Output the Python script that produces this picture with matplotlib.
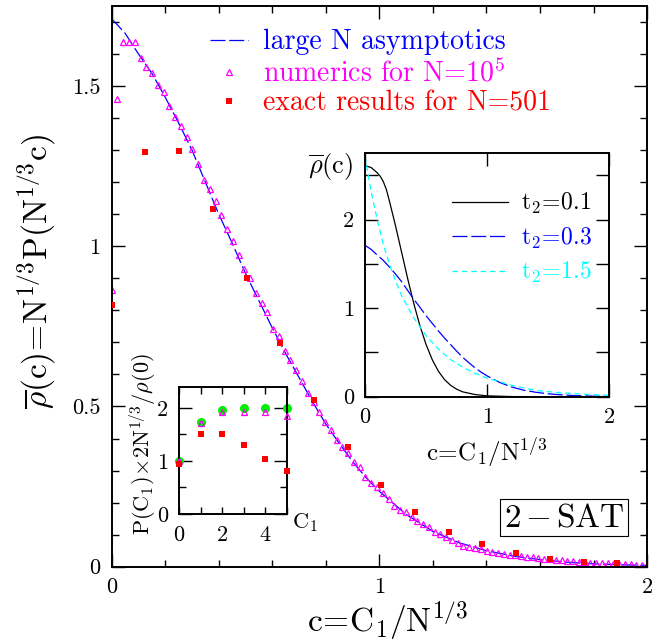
import matplotlib
matplotlib.use('Agg')
import matplotlib.pyplot as plt
import numpy as np

plt.rcParams['font.family'] = 'cmr10'
plt.rcParams['mathtext.fontset'] = 'cm'
plt.rcParams['axes.unicode_minus'] = False
plt.rcParams['axes.formatter.use_mathtext'] = True

# large N asymptotics (main curve, also t2=0.3 in the inset)
asym_c = [0, 0.05, 0.1, 0.15, 0.2, 0.25, 0.3, 0.35, 0.4, 0.45, 0.5, 0.55, 0.6,
          0.65, 0.7, 0.75, 0.8, 0.85, 0.9, 0.95, 1.0, 1.1, 1.2, 1.3, 1.4, 1.5,
          1.6, 1.7, 1.8, 1.9, 2.0]
asym_rho = [1.71, 1.665, 1.60, 1.54, 1.465, 1.385, 1.30, 1.20, 1.10, 1.01, 0.915,
            0.83, 0.745, 0.665, 0.59, 0.515, 0.445, 0.385, 0.328, 0.278, 0.235,
            0.163, 0.11, 0.074, 0.05, 0.033, 0.022, 0.014, 0.009, 0.006, 0.004]

# numerics for N=1e5, C1 = 0..92, c = C1 / N^(1/3)
num_N = 1e5
num_rho = [0.864, 1.46, 1.637, 1.637, 1.637, 1.589, 1.56, 1.542, 1.502, 1.481,
           1.437, 1.404, 1.374, 1.342, 1.305, 1.258, 1.207, 1.179, 1.141, 1.099,
           1.055, 1.018, 0.974, 0.929, 0.901, 0.854, 0.823, 0.794, 0.742, 0.719,
           0.674, 0.646, 0.613, 0.578, 0.542, 0.515, 0.482, 0.453, 0.427, 0.396,
           0.375, 0.356, 0.328, 0.311, 0.281, 0.262, 0.25, 0.229, 0.21, 0.19,
           0.177, 0.17, 0.154, 0.141, 0.132, 0.125, 0.109, 0.101, 0.094, 0.083,
           0.075, 0.065, 0.062, 0.058, 0.054, 0.050, 0.047, 0.044, 0.041, 0.038,
           0.036, 0.033, 0.031, 0.029, 0.027, 0.025, 0.023, 0.021, 0.020, 0.018,
           0.017, 0.016, 0.014, 0.013, 0.012, 0.011, 0.010, 0.009, 0.008, 0.008,
           0.007, 0.006, 0.006]

# exact results for N=501, C1 = 0..15
exact_N = 501
exact_rho = [0.818, 1.294, 1.297, 1.116, 0.901, 0.698, 0.519, 0.372, 0.256,
             0.172, 0.109, 0.070, 0.044, 0.025, 0.016, 0.010]

# inset: rho_bar(c) for several t2
t01_c = [0, 0.05, 0.1, 0.125, 0.15, 0.175, 0.2, 0.25, 0.3, 0.35, 0.4, 0.45,
         0.5, 0.55, 0.6, 0.65, 0.7, 0.75, 0.8, 0.9, 1.0, 1.2, 1.5, 2.0]
t01_rho = [2.61, 2.59, 2.53, 2.49, 2.43, 2.34, 2.21, 1.93, 1.63, 1.33, 1.05,
           0.80, 0.59, 0.42, 0.29, 0.195, 0.13, 0.085, 0.055, 0.025, 0.01,
           0.002, 0.0, 0.0]
t15_c = [0, 0.02, 0.05, 0.1, 0.15, 0.2, 0.25, 0.3, 0.4, 0.5, 0.6, 0.7, 0.8,
         0.9, 1.0, 1.2, 1.4, 1.6, 1.8, 2.0]
t15_rho = [2.72, 2.55, 2.32, 2.00, 1.72, 1.50, 1.31, 1.14, 0.89, 0.69, 0.54,
           0.42, 0.335, 0.265, 0.21, 0.13, 0.07, 0.045, 0.028, 0.015]

# small inset: P(C1) x 2N^(1/3) / rho(0)
small_C1 = [0, 1, 2, 3, 4, 5]
small_green = [1.0, 1.73, 1.96, 2.0, 2.0, 2.0]
small_num = [1.0, 1.71, 1.92, 1.92, 1.92, 1.85]
small_exact = [0.95, 1.50, 1.50, 1.31, 1.04, 0.81]

BLUE = '#0000ff'
MAG = '#ff00ff'
RED = '#ff0000'
CYAN = '#00ffff'
GREEN = '#00ee00'


def style_ticks(ax, major, minor, size):
    ax.tick_params(which='both', direction='in', top=True, right=True,
                   labelsize=size, pad=8)
    ax.tick_params(which='major', length=major, width=1)
    ax.tick_params(which='minor', length=minor, width=1)
    for s in ax.spines.values():
        s.set_linewidth(1.4)


fig = plt.figure(figsize=(6.71, 6.43), dpi=100)

# ---- main plot
ax = fig.add_axes([0.1665, 0.1187, 0.7978, 0.8720])
c_num = np.arange(len(num_rho)) / num_N ** (1 / 3)
c_exact = np.arange(len(exact_rho)) / exact_N ** (1 / 3)
ax.plot(asym_c, asym_rho, color=BLUE, lw=0.9, dashes=(12, 3),
        label='large N asymptotics')
ax.plot(c_num, num_rho, ls='none', marker='^', ms=5, mfc='none', mec=MAG,
        mew=0.9, color=MAG, label=r'numerics for N=$10^5$')
ax.plot(c_exact, exact_rho, ls='none', marker='s', ms=5, color=RED, mew=0,
        label='exact results for N=501', zorder=4)
ax.set_xlim(0, 2)
ax.set_ylim(0, 1.75)
ax.set_xticks([0, 1, 2])
ax.set_xticklabels(['0', '1', '2'])
ax.set_xticks(np.arange(0, 2.01, 0.2), minor=True)
ax.set_yticks([0, 0.5, 1, 1.5])
ax.set_yticklabels(['0', '0.5', '1', '1.5'])
ax.set_yticks(np.arange(0, 1.75, 0.1), minor=True)
style_ticks(ax, 9.5, 4.8, 16)
ax.set_xlabel(r'$\mathrm{c\!=\!C_1/N^{1/3}}$', fontsize=24)
ax.xaxis.set_label_coords(0.515, -0.058)
ax.set_ylabel(r'$\overline{\rho}(\mathrm{c})\!=\!\mathrm{N^{1/3}P(N^{1/3}c)}$',
              fontsize=24)
ax.yaxis.set_label_coords(-0.1, 0.526)
leg = ax.legend(loc='upper left', bbox_to_anchor=(0.313, 0.955),
                bbox_transform=fig.transFigure, frameon=False, fontsize=20,
                borderpad=0, borderaxespad=0, handlelength=1.35,
                handletextpad=0.55, labelspacing=0.12, numpoints=1,
                labelcolor='linecolor')
ax.text(0.845, 0.087, r'$2\,{-}\,\mathrm{SAT}$', transform=ax.transAxes,
        fontsize=24, ha='center', va='center',
        bbox=dict(boxstyle='square,pad=0.12', fc='white', ec='black', lw=0.8))

# ---- inset with several t2
ai = fig.add_axes([0.544, 0.383, 0.364, 0.3785])
ai.plot(t01_c, t01_rho, color='black', lw=0.9, label=r'$\mathrm{t_2\!=\!0.1}$')
ai.plot(asym_c, asym_rho, color=BLUE, lw=0.9, dashes=(12, 3),
        label=r'$\mathrm{t_2\!=\!0.3}$')
ai.plot(t15_c, t15_rho, color=CYAN, lw=0.9, dashes=(4.5, 3),
        label=r'$\mathrm{t_2\!=\!1.5}$')
ai.set_xlim(0, 2)
ai.set_ylim(0, 2.75)
ai.set_xticks([0, 1, 2])
ai.set_xticklabels(['0', '1', '2'])
ai.set_yticks([0, 1, 2])
ai.set_yticklabels(['0', '1', '2'])
ai.set_yticks([0.5, 1.5, 2.5], minor=True)
style_ticks(ai, 9.5, 9.5, 16)
ai.set_xlabel(r'$\mathrm{c\!=\!C_1/N^{1/3}}$', fontsize=18, labelpad=6)
ai.text(-0.05, 0.945, r'$\overline{\rho}(\mathrm{c})$', transform=ai.transAxes,
        fontsize=19, ha='right', va='center')
ai.legend(loc='upper left', bbox_to_anchor=(0.673, 0.703),
          bbox_transform=fig.transFigure, frameon=False, fontsize=17,
          borderpad=0, borderaxespad=0, handlelength=2.4,
          handletextpad=0.55, labelspacing=0.4, labelcolor='linecolor')

# ---- small inset for small C1
ak = fig.add_axes([0.267, 0.2006, 0.160, 0.198])
ak.plot(small_C1, small_green, ls='none', marker='o', ms=5.5, color=GREEN,
        clip_on=False, zorder=2)
ak.plot(small_C1, small_num, ls='none', marker='^', ms=5, mfc='none', mec=MAG,
        mew=0.9, clip_on=False, zorder=3)
ak.plot(small_C1, small_exact, ls='none', marker='s', ms=5, color=RED, mew=0,
        clip_on=False, zorder=4)
ak.set_xlim(0, 5)
ak.set_ylim(0, 2.4)
ak.set_xticks([0, 2, 4])
ak.set_xticklabels(['0', '2', '4'])
ak.set_xticks([1, 3, 5], minor=True)
ak.set_yticks([0, 1, 2])
ak.set_yticklabels(['0', '1', '2'])
ak.set_yticks([0.5, 1.5], minor=True)
style_ticks(ak, 5, 5, 16)
ak.tick_params(axis='y', which='major', length=9.5)
ak.set_ylabel(r'$\mathrm{P(C_1)\!\times\!2N^{1/3}}/\rho(0)$', fontsize=16,
              labelpad=2)
ak.yaxis.set_label_coords(-0.2, 0.55)
ak.text(1.05, -0.07, r'$\mathrm{C_1}$', transform=ak.transAxes, fontsize=16,
        ha='left', va='center')

fig.savefig('out.png', dpi=100)
